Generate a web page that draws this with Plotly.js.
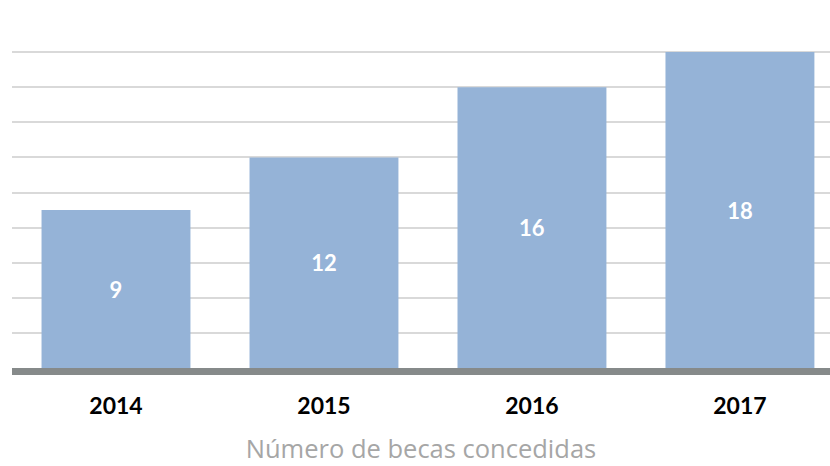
<!DOCTYPE html>
<html>
<head>
<meta charset="utf-8">
<script src="https://cdn.plot.ly/plotly-3.0.1.min.js"></script>
<style>html,body{margin:0;padding:0;background:#fff;}#chart{width:830px;height:466px;}</style>
</head>
<body>
<div id="chart"></div>
<script>
const years = ['2014', '2015', '2016', '2017'];
const becas = [9, 12, 16, 18];
const xTitle = 'Número de becas concedidas';

const trace = {
  type: 'bar',
  x: years,
  y: becas,
  text: becas.map(String),
  textposition: 'inside',
  insidetextanchor: 'middle',
  textangle: 0,
  textfont: {family: 'Lato, "Open Sans", sans-serif', size: 22, color: '#ffffff', weight: 'bold'},
  marker: {color: '#95b3d7', line: {width: 0}},
  hoverinfo: 'none',
  cliponaxis: false
};

const layout = {
  width: 830,
  height: 466,
  margin: {l: 12, r: 0, t: 17, b: 98},
  paper_bgcolor: '#ffffff',
  plot_bgcolor: '#ffffff',
  bargap: 0.284,
  showlegend: false,
  xaxis: {
    type: 'category',
    range: [-0.5, 3.433],
    showgrid: false,
    showline: true,
    linecolor: '#868a8a',
    linewidth: 7,
    ticks: '',
    ticklabelstandoff: 11,
    tickfont: {family: 'Lato, "Open Sans", sans-serif', size: 23, color: '#000000', weight: 'bold'},
    title: {text: xTitle, font: {family: '"Open Sans", sans-serif', size: 25.5, color: '#a6a6a6'}, standoff: 25},
    fixedrange: true
  },
  yaxis: {
    range: [0, 20],
    dtick: 2,
    showgrid: true,
    gridcolor: '#d9d9d9',
    gridwidth: 2,
    zeroline: false,
    showticklabels: false,
    ticks: '',
    fixedrange: true
  }
};

Plotly.newPlot('chart', [trace], layout, {displayModeBar: false, staticPlot: true});
</script>
</body>
</html>
